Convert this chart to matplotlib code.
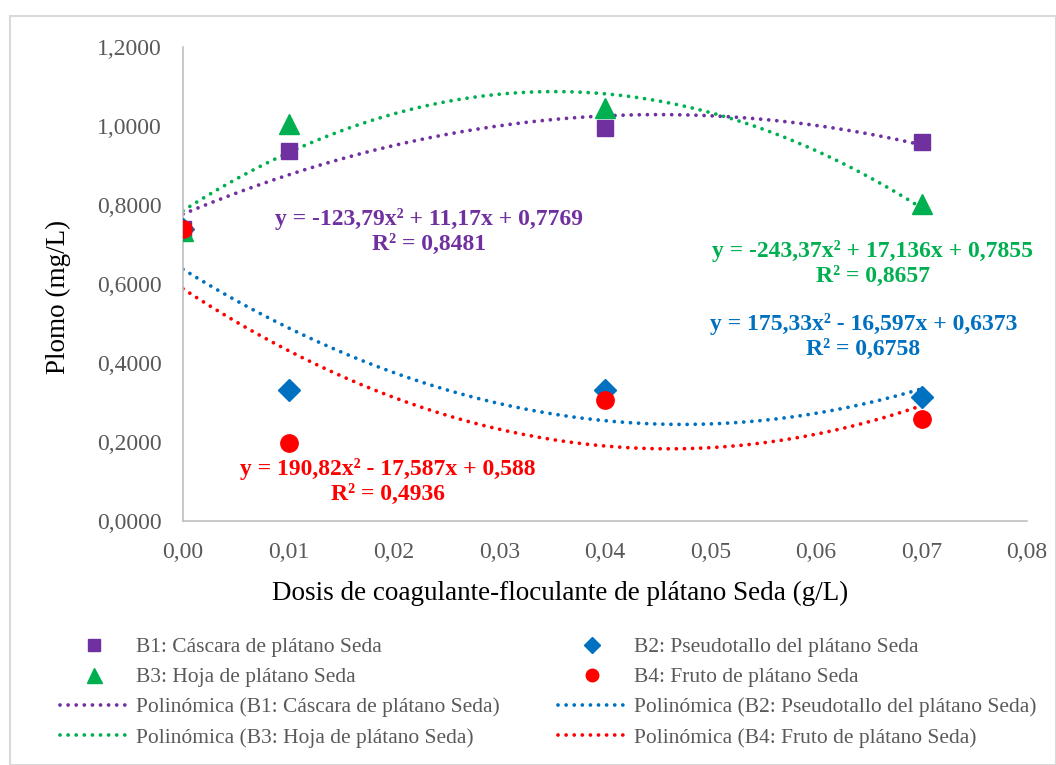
import numpy as np
import matplotlib.pyplot as plt
from matplotlib.lines import Line2D
from matplotlib.patches import Rectangle
from matplotlib.ticker import FuncFormatter

plt.rcParams['font.family'] = ['Liberation Serif', 'DejaVu Serif']

# dosis (g/L) y plomo medido (mg/L)
dosis = [0.00, 0.01, 0.04, 0.07]
b1_cascara = [0.740, 0.937, 0.994, 0.960]
b2_pseudotallo = [0.740, 0.332, 0.332, 0.314]
b3_hoja = [0.735, 1.006, 1.046, 0.803]
b4_fruto = [0.740, 0.198, 0.307, 0.258]

# coeficientes de las líneas de tendencia polinómicas (a, b, c)
coef_b1 = [-123.79, 11.17, 0.7769]
coef_b2 = [175.33, -16.597, 0.6373]
coef_b3 = [-243.37, 17.136, 0.7855]
coef_b4 = [190.82, -17.587, 0.588]

etiquetas = ['B1: Cáscara de plátano Seda', 'B2: Pseudotallo del plátano Seda',
             'B3: Hoja de plátano Seda', 'B4: Fruto de plátano Seda']
ecuaciones = ['y = -123,79x² + 11,17x + 0,7769\nR² = 0,8481',
              'y = 175,33x² - 16,597x + 0,6373\nR² = 0,6758',
              'y = -243,37x² + 17,136x + 0,7855\nR² = 0,8657',
              'y = 190,82x² - 17,587x + 0,588\nR² = 0,4936']

colores = ['#7030A0', '#0070C0', '#00B050', '#FF0000']
marcadores = ['s', 'D', '^', 'o']
tam_marc = [11.5, 11, 15, 12.5]
series = [b1_cascara, b2_pseudotallo, b3_hoja, b4_fruto]
coefs = [coef_b1, coef_b2, coef_b3, coef_b4]
pos_ec = [(0.0233, 0.734), (0.0645, 0.467), (0.0654, 0.652), (0.0194, 0.101)]

fig = plt.figure(figsize=(10.56, 7.65), dpi=100)
fig.patches.append(Rectangle((10 / 1056, 0), 1 - 10 / 1056, 1 - 16 / 765,
                             transform=fig.transFigure, fill=False,
                             edgecolor='#D9D9D9', linewidth=1.5))
ax = fig.add_axes([183 / 1056, 1 - 521 / 765, (1027 - 183) / 1056, (521 - 47) / 765])

xs = np.linspace(0, 0.07, 200)
dots = (0, (0.01, 2.15))
for c, col in zip(coefs, colores):
    ax.plot(xs, np.polyval(c, xs), color=col, lw=2.7, linestyle=dots,
            dash_capstyle='round', zorder=2)
for y, col, m, ms in zip(series, colores, marcadores, tam_marc):
    ax.plot(dosis, y, linestyle='none', marker=m, color=col, markersize=ms, zorder=3)

for (px, py), txt, col in zip(pos_ec, ecuaciones, colores):
    ax.text(px, py, txt, color=col, fontsize=17, fontweight='bold',
            ha='center', va='center', linespacing=1.25)

ax.set_xlim(0, 0.08)
ax.set_ylim(0, 1.2)
ax.set_xticks(np.arange(0, 0.081, 0.01))
ax.set_yticks(np.arange(0, 1.21, 0.2))
ax.xaxis.set_major_formatter(FuncFormatter(lambda v, p: f'{v:.2f}'.replace('.', ',')))
ax.yaxis.set_major_formatter(FuncFormatter(lambda v, p: f'{v:.4f}'.replace('.', ',')))
ax.tick_params(length=0, labelsize=17, labelcolor='#595959')
ax.tick_params(axis='x', pad=15)
ax.tick_params(axis='y', pad=15)
for s in ['top', 'right']:
    ax.spines[s].set_visible(False)
for s in ['left', 'bottom']:
    ax.spines[s].set_color('#BFBFBF')
    ax.spines[s].set_linewidth(1.2)

fig.text(560 / 1056, 1 - 593 / 765, 'Dosis de coagulante-floculante de plátano Seda (g/L)',
         fontsize=19.5, ha='center', va='center')
fig.text(58 / 1056, 1 - 297 / 765, 'Plomo (mg/L)', fontsize=19.5, rotation=90,
         ha='center', va='center')

# leyenda en dos columnas: marcadores arriba, tendencias abajo
h_marc = [Line2D([], [], linestyle='none', marker=m, color=col, markersize=ms * 0.72)
          for m, col, ms in zip(marcadores, colores, tam_marc)]
h_lin = [Line2D([], [], color=col, lw=2.7, linestyle=dots, dash_capstyle='round')
         for col in colores]
n_lin = ['Polinómica (' + e + ')' for e in etiquetas]
handles = [h_marc[0], h_marc[2], h_lin[0], h_lin[2], h_marc[1], h_marc[3], h_lin[1], h_lin[3]]
labels = [etiquetas[0], etiquetas[2], n_lin[0], n_lin[2],
          etiquetas[1], etiquetas[3], n_lin[1], n_lin[3]]
fig.legend(handles, labels, ncol=2, loc='upper left', bbox_to_anchor=(60 / 1056, 1 - 637 / 765),
           frameon=False, fontsize=15.5, labelcolor='#595959', handlelength=3.2,
           handletextpad=0.33, columnspacing=2.7, labelspacing=0.47, borderaxespad=0,
           borderpad=0)

fig.savefig('out.png', dpi=100)
